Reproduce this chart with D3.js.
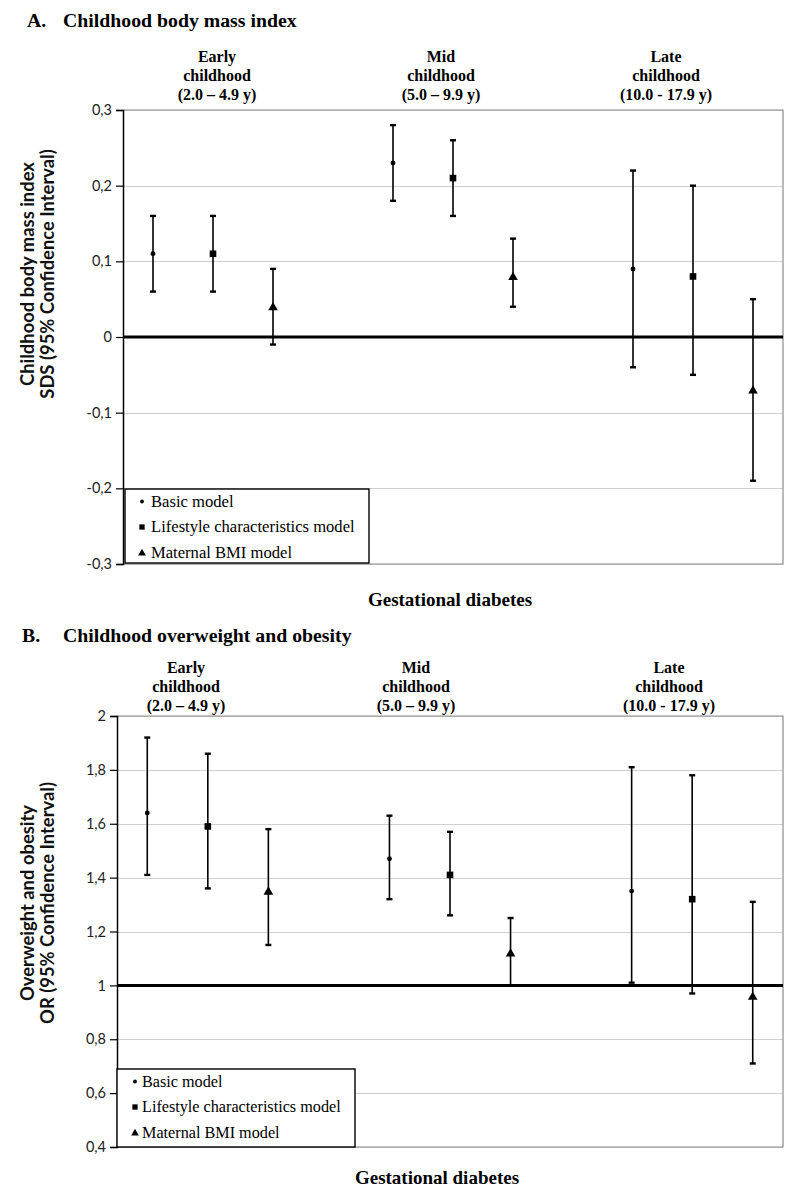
<!DOCTYPE html>
<html>
<head>
<meta charset="utf-8">
<script src="https://cdn.jsdelivr.net/npm/d3@7"></script>
<style>
  body { margin: 0; background: #fff; }
  svg { display: block; }
  .serif { font-family: "Liberation Serif", "Times New Roman", Times, serif; }
  .sans { font-family: Lato, "Open Sans", sans-serif; }
</style>
</head>
<body>
<svg id="chart" width="800" height="1198"></svg>
<script>
// ---------- DATA ----------
const categories = ["Early basic", "Early lifestyle", "Early maternal", "gap1",
                    "Mid basic", "Mid lifestyle", "Mid maternal", "gap2",
                    "Late basic", "Late lifestyle", "Late maternal"];
const markerTypes = ["circle", "square", "triangle", null,
                     "circle", "square", "triangle", null,
                     "circle", "square", "triangle"];

// Panel A: childhood BMI SDS
const bmiEstimate = [0.11, 0.11, 0.04, null, 0.23, 0.21, 0.08, null, 0.09, 0.08, -0.07];
const bmiLower    = [0.06, 0.06, -0.01, null, 0.18, 0.16, 0.04, null, -0.04, -0.05, -0.19];
const bmiUpper    = [0.16, 0.16, 0.09, null, 0.28, 0.26, 0.13, null, 0.22, 0.20, 0.05];
const bmiTicks      = [-0.3, -0.2, -0.1, 0, 0.1, 0.2, 0.3];
const bmiTickLabels = ["-0,3", "-0,2", "-0,1", "0", "0,1", "0,2", "0,3"];

// Panel B: overweight / obesity OR
const owEstimate = [1.64, 1.59, 1.35, null, 1.47, 1.41, 1.12, null, 1.35, 1.32, 0.96];
const owLower    = [1.41, 1.36, 1.15, null, 1.32, 1.26, 1.00, null, 1.01, 0.97, 0.71];
const owUpper    = [1.92, 1.86, 1.58, null, 1.63, 1.57, 1.25, null, 1.81, 1.78, 1.31];
const owTicks      = [0.4, 0.6, 0.8, 1.0, 1.2, 1.4, 1.6, 1.8, 2.0];
const owTickLabels = ["0,4", "0,6", "0,8", "1", "1,2", "1,4", "1,6", "1,8", "2"];

const groupHeaders = [
  ["Early", "childhood", "(2.0 \u2013 4.9 y)"],
  ["Mid", "childhood", "(5.0 \u2013 9.9 y)"],
  ["Late", "childhood", "(10.0 - 17.9 y)"]
];
const legendLabels = ["Basic model", "Lifestyle characteristics model", "Maternal BMI model"];
const legendMarkers = ["circle", "square", "triangle"];

// ---------- DRAW ----------
const svg = d3.select("#chart");

function marker(g, type, x, y, scale) {
  const s = scale || 1;
  if (type === "circle") {
    g.append("circle").attr("cx", x).attr("cy", y).attr("r", 2.4 * s).attr("fill", "#000");
  } else if (type === "square") {
    const h = 3.3 * s;
    g.append("rect").attr("x", x - h).attr("y", y - h).attr("width", 2 * h).attr("height", 2 * h).attr("fill", "#000");
  } else if (type === "triangle") {
    g.append("path")
      .attr("d", d3.symbol().type(d3.symbolTriangle).size(40 * s * s)())
      .attr("transform", `translate(${x},${y + 0.8})`)
      .attr("fill", "#000");
  }
}

function panel(cfg) {
  const g = svg.append("g");
  const x = d3.scaleBand().domain(categories).range([cfg.left, cfg.right]);
  const y = d3.scaleLinear().domain(cfg.domain).range([cfg.bottom, cfg.top]);

  // Title
  g.append("text").attr("class", "serif").attr("x", cfg.titleX).attr("y", cfg.titleY)
    .style("font-weight", "bold").style("font-size", "19.8px")
    .text(cfg.titleLetter);
  g.append("text").attr("class", "serif").attr("x", 63).attr("y", cfg.titleY)
    .style("font-weight", "bold").style("font-size", "19.8px")
    .text(cfg.title);

  // Group headers
  groupHeaders.forEach((lines, i) => {
    lines.forEach((t, j) => {
      g.append("text").attr("class", "serif").attr("x", cfg.headerX[i]).attr("y", cfg.headerY + j * 19)
        .attr("text-anchor", "middle")
        .style("font-weight", "bold").style("font-size", "16px")
        .text(t);
    });
  });

  // Gridlines
  g.append("g").selectAll("line").data(cfg.ticks).join("line")
    .attr("x1", cfg.left).attr("x2", cfg.right)
    .attr("y1", d => Math.round(y(d)) + 0.5).attr("y2", d => Math.round(y(d)) + 0.5)
    .attr("stroke", "#d0d0d0").attr("stroke-width", 1.2);

  // Gray border (top, right, bottom)
  g.append("path")
    .attr("d", `M${cfg.left},${y(cfg.domain[1])}H${cfg.right}V${y(cfg.domain[0])}H${cfg.left}`)
    .attr("fill", "none").attr("stroke", "#8c8c8c").attr("stroke-width", 1.2);

  // Y axis
  const axis = d3.axisLeft(y).tickValues(cfg.ticks)
    .tickFormat((d, i) => cfg.tickLabels[i]).tickSize(7).tickPadding(4);
  const ag = g.append("g").attr("transform", `translate(${cfg.left},0)`).call(axis);
  ag.attr("font-family", null).attr("font-size", null);
  ag.select(".domain").attr("stroke", "#000").attr("stroke-width", 1.5);
  ag.selectAll(".tick line").attr("stroke", "#000").attr("stroke-width", 1.2);
  ag.selectAll(".tick text").attr("class", "sans").style("font-size", "14.5px").attr("fill", "#222");

  // Reference line
  g.append("line").attr("x1", cfg.left).attr("x2", cfg.right)
    .attr("y1", y(cfg.ref)).attr("y2", y(cfg.ref))
    .attr("stroke", "#000").attr("stroke-width", 3);

  // Y title
  const tt = g.append("text").attr("class", "sans")
    .attr("transform", `translate(${cfg.yTitleX},${cfg.yTitleY}) rotate(-90)`)
    .attr("text-anchor", "middle")
    .style("font-weight", "bold").style("font-size", "18.4px").attr("fill", "#111");
  tt.append("tspan").attr("x", 0).attr("y", 0).text(cfg.yTitle[0]);
  tt.append("tspan").attr("x", 0).attr("y", 20).text(cfg.yTitle[1]);

  // Error bars + markers
  const bw = x.bandwidth();
  categories.forEach((c, i) => {
    if (cfg.est[i] == null) return;
    const cx = x(c) + bw / 2;
    const eg = g.append("g");
    eg.append("line").attr("x1", cx).attr("x2", cx)
      .attr("y1", y(cfg.lo[i])).attr("y2", y(cfg.hi[i]))
      .attr("stroke", "#000").attr("stroke-width", 1.6);
    [cfg.lo[i], cfg.hi[i]].forEach(v => {
      eg.append("line").attr("x1", cx - 3).attr("x2", cx + 3)
        .attr("y1", y(v)).attr("y2", y(v))
        .attr("stroke", "#000").attr("stroke-width", 2.4);
    });
    marker(eg, markerTypes[i], cx, y(cfg.est[i]), 1);
  });

  // Legend
  const lg = g.append("g");
  lg.append("rect").attr("x", cfg.legend.x).attr("y", cfg.legend.y)
    .attr("width", cfg.legend.w).attr("height", cfg.legend.h)
    .attr("fill", "#fff").attr("stroke", "#000").attr("stroke-width", 1.4);
  legendLabels.forEach((t, i) => {
    const by = cfg.legend.y + 17.5 + i * 25.5;
    marker(lg, legendMarkers[i], cfg.legend.mx, by - 5, 0.8);
    lg.append("text").attr("class", "serif").attr("x", cfg.legend.tx).attr("y", by)
      .style("font-size", cfg.legend.fs + "px").text(t);
  });

  // X label
  g.append("text").attr("class", "serif").attr("x", cfg.xLabelX).attr("y", cfg.xLabelY)
    .attr("text-anchor", "middle")
    .style("font-weight", "bold").style("font-size", "19px")
    .text("Gestational diabetes");
}

panel({
  titleLetter: "A.", title: "Childhood body mass index", titleX: 27, titleY: 27,
  left: 123, right: 783, top: 110, bottom: 564, domain: [-0.3, 0.3], ref: 0,
  ticks: bmiTicks, tickLabels: bmiTickLabels,
  est: bmiEstimate, lo: bmiLower, hi: bmiUpper,
  headerX: [217, 441, 666], headerY: 62,
  yTitle: ["Childhood body mass index", "SDS (95% Confidence Interval)"],
  yTitleX: 34, yTitleY: 274,
  legend: { x: 125, y: 489, w: 244, h: 74, mx: 142, tx: 151, fs: 16.6 },
  xLabelX: 450, xLabelY: 606
});

panel({
  titleLetter: "B.", title: "Childhood overweight and obesity", titleX: 22, titleY: 642,
  left: 117, right: 783, top: 716, bottom: 1147, domain: [0.4, 2.0], ref: 1,
  ticks: owTicks, tickLabels: owTickLabels,
  est: owEstimate, lo: owLower, hi: owUpper,
  headerX: [186, 416, 669], headerY: 673,
  yTitle: ["Overweight and obesity", "OR (95% Confidence Interval)"],
  yTitleX: 34, yTitleY: 903,
  legend: { x: 117, y: 1069, w: 238, h: 78, mx: 135, tx: 142, fs: 16.2 },
  xLabelX: 437, xLabelY: 1184
});
</script>
</body>
</html>
